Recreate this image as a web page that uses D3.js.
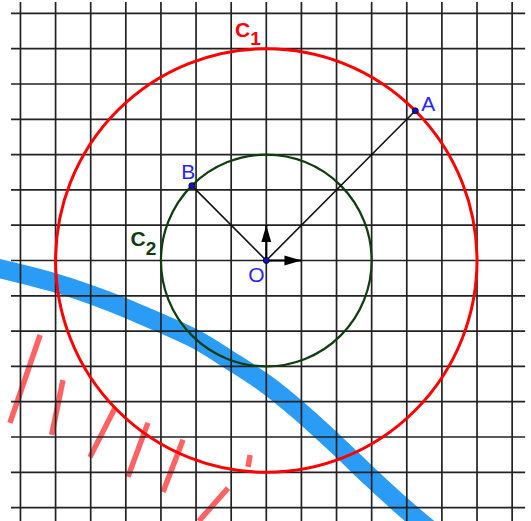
<!DOCTYPE html>
<html>
<head>
<meta charset="utf-8">
<script src="https://cdn.jsdelivr.net/npm/d3@7"></script>
<style>
  html, body { margin: 0; padding: 0; background: #fff; }
  svg { display: block; }
  text { font-family: "Liberation Sans", Arial, sans-serif; }
</style>
</head>
<body>
<div id="chart"></div>
<script>
// ---- data (grid units, origin O) ----
const gridTicks = [-7, -6, -5, -4, -3, -2, -1, 0, 1, 2, 3, 4, 5, 6, 7];
const gridExtentX = [-7.27, 7.37];
const gridExtentY = [-7.6, 7.32];
const circleRadii = [6, 3];            // c1, c2
const circleNames = ["C", "C"];
const circleSubs = ["1", "2"];
const pointA = [4.243, 4.243];          // on c1 at 45°
const pointB = [-2.121, 2.121];         // on c2 at 135°
const pointO = [0, 0];
const unitVectors = [[1, 0], [0, 1]];
const blueStroke = [
  [-7.8, -0.18], [-6.02, -0.63], [-4.5, -1.15], [-3.60, -1.52], [-2.03, -2.22],
  [-1.03, -2.83], [0.02, -3.52], [0.90, -4.23], [2.01, -5.23], [3.01, -6.18],
  [4.03, -7.10], [4.75, -7.70]
];
const redHatches = [
  [[-6.44, -2.11], [-7.30, -4.60]],
  [[-5.79, -3.39], [-6.11, -4.94]],
  [[-4.31, -4.18], [-5.02, -5.57]],
  [[-3.37, -4.60], [-3.94, -6.13]],
  [[-2.37, -5.08], [-2.94, -6.56]],
  [[-0.46, -5.51], [-0.52, -5.85]],
  [[-1.09, -6.45], [-1.92, -7.38]]
];

const W = 531, H = 521;
const x = d3.scaleLinear().domain([-7, 7]).range([20.46, 512.14]);
const y = d3.scaleLinear().domain([-7, 7]).range([507.6, 13.4]);

const svg = d3.select("#chart").append("svg").attr("width", W).attr("height", H);
svg.append("rect").attr("width", W).attr("height", H).attr("fill", "#fff");

const defs = svg.append("defs");
defs.append("marker").attr("id", "arr")
  .attr("viewBox", "0 -6 18 12").attr("markerUnits", "userSpaceOnUse")
  .attr("markerWidth", 18).attr("markerHeight", 12)
  .attr("refX", 17).attr("refY", 0).attr("orient", "auto")
  .append("path").attr("d", "M0,-5L17,0L0,5Z").attr("fill", "#000");

const line = d3.line().x(d => x(d[0])).y(d => y(d[1]));

// blue hand-drawn band
svg.append("path").datum(blueStroke)
  .attr("d", line.curve(d3.curveCatmullRom.alpha(0.5)))
  .attr("fill", "none").attr("stroke", "#2a9cf5").attr("stroke-width", 19)
  .attr("stroke-linecap", "butt");

// red hatch strokes
svg.append("g").selectAll("path").data(redHatches).join("path")
  .attr("d", d => d3.line().x(p => x(p[0])).y(p => y(p[1]))(d))
  .attr("fill", "none").attr("stroke", "#ff6262").attr("stroke-width", 5.5)
  .attr("stroke-linecap", "butt");

// grid
const grid = svg.append("g").attr("stroke", "#222").attr("stroke-width", 1.7);
grid.selectAll("line.v").data(gridTicks).join("line").attr("class", "v")
  .attr("x1", d => x(d)).attr("x2", d => x(d))
  .attr("y1", y(gridExtentY[1])).attr("y2", y(gridExtentY[0]));
grid.selectAll("line.h").data(gridTicks).join("line").attr("class", "h")
  .attr("y1", d => y(d)).attr("y2", d => y(d))
  .attr("x1", x(gridExtentX[0])).attr("x2", x(gridExtentX[1]));

// circles
const circleColors = ["#ff0000", "#0f3d0f"];
const circleWidths = [3, 2.2];
svg.append("g").selectAll("ellipse").data(circleRadii).join("ellipse")
  .attr("cx", x(0)).attr("cy", y(0))
  .attr("rx", d => x(d) - x(0)).attr("ry", d => y(0) - y(d))
  .attr("fill", "none")
  .attr("stroke", (d, i) => circleColors[i])
  .attr("stroke-width", (d, i) => circleWidths[i]);

// segments OA, OB
svg.append("g").selectAll("line").data([pointA, pointB]).join("line")
  .attr("x1", x(pointO[0])).attr("y1", y(pointO[1]))
  .attr("x2", d => x(d[0])).attr("y2", d => y(d[1]))
  .attr("stroke", "#111").attr("stroke-width", 1.6);

// unit vectors
svg.append("g").selectAll("line").data(unitVectors).join("line")
  .attr("x1", x(0)).attr("y1", y(0))
  .attr("x2", d => x(d[0])).attr("y2", d => y(d[1]))
  .attr("stroke", "#000").attr("stroke-width", 2)
  .attr("marker-end", "url(#arr)");

// points
svg.append("g").selectAll("circle").data([pointA, pointB, pointO]).join("circle")
  .attr("cx", d => x(d[0])).attr("cy", d => y(d[1])).attr("r", 3)
  .attr("fill", "#1010d0").attr("stroke", "#000").attr("stroke-width", 0.8);

// point labels
const ptLabels = [
  { t: "A", p: pointA, dx: 6, dy: 0 },
  { t: "B", p: pointB, dx: -10.5, dy: -6.5 },
  { t: "O", p: pointO, dx: -18, dy: 21 }
];
svg.append("g").selectAll("text").data(ptLabels).join("text")
  .attr("x", d => x(d.p[0]) + d.dx).attr("y", d => y(d.p[1]) + d.dy)
  .attr("fill", "#2525ff").attr("font-size", 21).text(d => d.t);

// circle labels
const cLabelPos = [[235, 36.7], [130.5, 246]];
const cLabelColors = ["#ff0000", "#0f3d0f"];
circleRadii.forEach((r, i) => {
  const t = svg.append("text")
    .attr("x", cLabelPos[i][0]).attr("y", cLabelPos[i][1])
    .attr("fill", cLabelColors[i]).attr("font-size", 21).attr("font-weight", "bold");
  t.append("tspan").text(circleNames[i]);
  t.append("tspan").attr("dy", 8.5).attr("font-size", 19).text(circleSubs[i]);
});
</script>
</body>
</html>
